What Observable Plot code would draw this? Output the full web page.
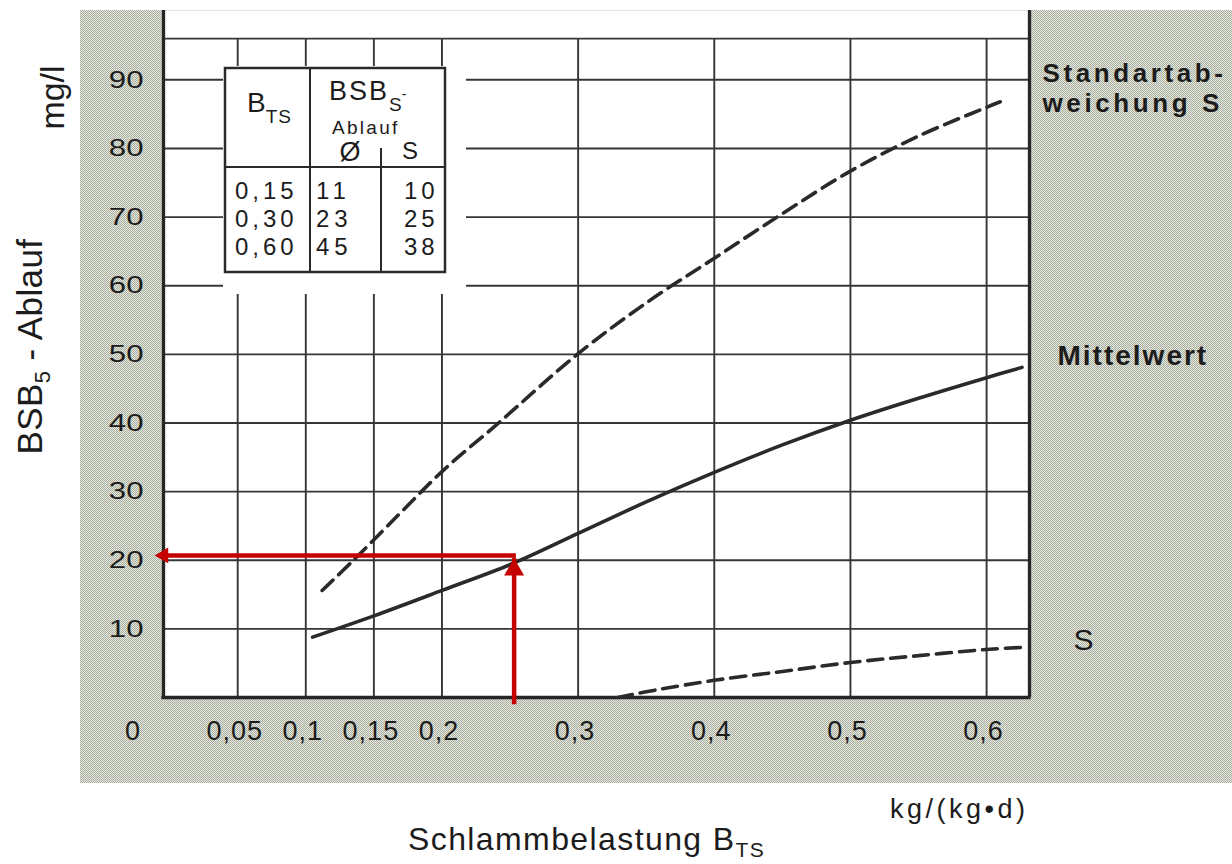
<!DOCTYPE html>
<html>
<head>
<meta charset="utf-8">
<script src="https://cdn.jsdelivr.net/npm/d3@7"></script>
<script src="https://cdn.jsdelivr.net/npm/@observablehq/plot@0.6"></script>
<style>
  html, body { margin: 0; padding: 0; background: #fff; }
  #chart { width: 1232px; height: 864px; }
  g[aria-label="x-axis tick label"] { letter-spacing: 1px; }
</style>
</head>
<body>
<div id="chart"></div>
<script>
// ---------- data ----------
const xTicks = [0.05, 0.1, 0.15, 0.2, 0.3, 0.4, 0.5, 0.6];
const xTickLabels = ["0,05", "0,1", "0,15", "0,2", "0,3", "0,4", "0,5", "0,6"];
const yTicks = [10, 20, 30, 40, 50, 60, 70, 80, 90];
const yTickLabels = ["10", "20", "30", "40", "50", "60", "70", "80", "90"];
const originLabel = "0";
const gridTop = 96;
const xDomain = [-0.0045, 0.6315];
const yDomain = [0, 100.1];

// Mittelwert (solid)
const meanBTS = [0.105, 0.15, 0.2, 0.253, 0.3, 0.35, 0.4, 0.45, 0.5, 0.55, 0.6, 0.626];
const meanBSB = [8.8, 11.9, 15.6, 19.6, 23.9, 28.5, 32.8, 36.8, 40.4, 43.6, 46.6, 48.1];
// Mittelwert + S (dashed, upper)
const upperBTS = [0.112, 0.135, 0.169, 0.201, 0.241, 0.3, 0.353, 0.4, 0.45, 0.5, 0.55, 0.6, 0.61];
const upperBSB = [15.6, 20.0, 26.8, 33.1, 39.9, 50.1, 57.9, 64.0, 70.5, 76.7, 81.8, 86.0, 86.8];
// Mittelwert - S (dashed, lower)
const lowerBTS = [0.329, 0.36, 0.4, 0.45, 0.5, 0.55, 0.6, 0.626];
const lowerBSB = [0, 1.2, 2.5, 3.8, 5.1, 6.1, 7.0, 7.3];

const seriesLabels = ["Standartab-\nweichung S", "Mittelwert", "S"];

// reading example (red arrows)
const arrowBTS = 0.253;
const arrowLevelBSB = 20.7;
const arrowStartBSB = 0.7;
const arrowTipBSB = 20.3;
const arrowTipBTS = -0.011;

// inset table
const tableBTS = ["0,15", "0,30", "0,60"];
const tableMean = ["11", "23", "45"];
const tableS = ["10", "25", "38"];

// ---------- helpers ----------
const fmtX = d => xTickLabels[xTicks.indexOf(d)];
const fmtY = d => yTickLabels[yTicks.indexOf(d)];
const mk = (xs, ys) => xs.map((x, i) => ({x, y: ys[i]}));
const mean = mk(meanBTS, meanBSB);
const upper = mk(upperBTS, upperBSB);
const lower = mk(lowerBTS, lowerBSB);

const ink = "#1c1c1c";
const gridColor = "#363636";
const curveColor = "#2a2a2a";
const red = "#c40000";
const font = "'Liberation Sans', Arial, Helvetica, sans-serif";

const plot = Plot.plot({
  width: 1232,
  height: 864,
  marginLeft: 163,
  marginRight: 203,
  marginTop: 10,
  marginBottom: 167,
  style: {fontFamily: font, color: ink, background: "transparent", overflow: "visible"},
  x: {domain: xDomain},
  y: {domain: yDomain},
  marks: [
    Plot.frame({fill: "white", stroke: "none"}),
    Plot.ruleY(yTicks, {y: d => d, x1: xDomain[0], x2: xDomain[1], stroke: gridColor, strokeWidth: 1.9}),
    Plot.ruleY([gridTop], {y: d => d, x1: xDomain[0], x2: xDomain[1], stroke: gridColor, strokeWidth: 1.9}),
    Plot.ruleX(xTicks, {x: d => d, y1: 0, y2: gridTop, stroke: gridColor, strokeWidth: 1.9}),
    Plot.ruleX(xDomain, {x: d => d, y1: 0, y2: yDomain[1], stroke: "#262626", strokeWidth: 3.3}),
    Plot.ruleY([0], {y: d => d, x1: xDomain[0], x2: xDomain[1], stroke: "#262626", strokeWidth: 3.3, strokeLinecap: "square"}),
    Plot.line(lower, {x: "x", y: "y", stroke: curveColor, strokeWidth: 3.6, strokeDasharray: "15,8", curve: "catmull-rom"}),
    Plot.line(upper, {x: "x", y: "y", stroke: curveColor, strokeWidth: 3.6, strokeDasharray: "15,8", curve: "catmull-rom"}),
    Plot.line(mean, {x: "x", y: "y", stroke: curveColor, strokeWidth: 3.6, curve: "catmull-rom"}),
    Plot.axisX({ticks: xTicks, tickSize: 0, tickPadding: 23, fontSize: 27, tickFormat: fmtX, label: null, dx: -3}),
    Plot.axisY({ticks: yTicks, tickSize: 0, tickPadding: 20, fontSize: 24, tickFormat: fmtY, label: null}),
    Plot.text([originLabel], {x: xDomain[0], y: 0, text: d => d, dx: -31, dy: 34, fontSize: 27}),
    Plot.text([seriesLabels[0]], {x: xDomain[1], y: upperBSB[upperBSB.length - 1], text: d => d, textAnchor: "start", lineAnchor: "bottom", dx: 13, dy: 10, fontSize: 26, fontWeight: "bold", lineHeight: 1.16}),
    Plot.text([seriesLabels[1]], {x: xDomain[1], y: meanBSB[meanBSB.length - 1], text: d => d, textAnchor: "start", lineAnchor: "bottom", dx: 28, dy: -2, fontSize: 28, fontWeight: "bold"}),
    Plot.text([seriesLabels[2]], {x: xDomain[1], y: lowerBSB[lowerBSB.length - 1], text: d => d, textAnchor: "start", lineAnchor: "bottom", dx: 44, dy: 3, fontSize: 30}),
    Plot.ruleX([arrowBTS], {x: d => d, y1: arrowStartBSB, y2: arrowTipBSB, stroke: red, strokeWidth: 4.5, insetTop: 12}),
    Plot.ruleY([arrowLevelBSB], {y: d => d, x1: arrowTipBTS, x2: arrowBTS, stroke: red, strokeWidth: 4.5, insetLeft: 9, strokeLinecap: "square"}),
    Plot.dot([arrowTipBSB], {x: arrowBTS, y: d => d, symbol: "triangle", r: 7.4, fill: red, stroke: "none", dy: 11.5}),
    Plot.dot([arrowTipBTS], {x: d => d, y: arrowLevelBSB, symbol: "triangle", r: 5.8, fill: red, stroke: "none", rotate: -90, dx: 9})
  ]
});

document.getElementById("chart").appendChild(plot);

// ---------- decorations ----------
const svg = d3.select(plot);
svg.style("font-family", font);

// halftone grey background
svg.insert("rect", ":first-child")
  .attr("x", 80).attr("y", 10).attr("width", 1152).attr("height", 773)
  .attr("fill", "url(#halftone)");
const defs = svg.insert("defs", ":first-child");
const pat = defs.append("pattern").attr("id", "halftone")
  .attr("width", 2).attr("height", 2).attr("patternUnits", "userSpaceOnUse");
pat.append("rect").attr("width", 2).attr("height", 2).attr("fill", "#e6e9df");
pat.append("rect").attr("width", 1).attr("height", 1).attr("fill", "#a8ad9f");
pat.append("rect").attr("x", 1).attr("y", 1).attr("width", 1).attr("height", 1).attr("fill", "#a8ad9f");

// widen y tick labels like the original typeface
svg.selectAll('g[aria-label="y-axis tick label"] text').each(function () {
  const t = this.getAttribute("transform");
  if (t) this.setAttribute("transform", t + " scale(1.3,1)");
});
svg.selectAll("text").filter(function () { return this.textContent === "Mittelwert"; })
  .style("letter-spacing", "2px");
svg.selectAll("text").filter(function () { return this.textContent.startsWith("Standartab"); })
  .style("letter-spacing", "3.6px");

// text helper: parts may shift baseline (shift)
function rich(g, x, y, parts, size, opts = {}) {
  const t = g.append("text").attr("x", x).attr("y", y)
    .attr("font-size", size).attr("fill", ink)
    .attr("text-anchor", opts.anchor || "start")
    .style("letter-spacing", (opts.ls || 0) + "px");
  let shift = 0;
  for (const p of parts) {
    const ts = t.append("tspan").text(p.t);
    const s = p.shift || 0;
    ts.attr("dy", s - shift);
    shift = s;
    if (p.size) ts.attr("font-size", p.size);
    if (p.ls != null) ts.style("letter-spacing", p.ls + "px");
  }
  return t;
}

// inset table
const tg = svg.append("g").attr("aria-label", "table");
tg.append("rect").attr("x", 223).attr("y", 66).attr("width", 243).attr("height", 228).attr("fill", "white");
tg.append("rect").attr("x", 225).attr("y", 68).attr("width", 220).attr("height", 204)
  .attr("fill", "none").attr("stroke", "#2a2a2a").attr("stroke-width", 2.5);
tg.append("line").attr("x1", 310).attr("x2", 310).attr("y1", 68).attr("y2", 272).attr("stroke", "#2a2a2a").attr("stroke-width", 2);
tg.append("line").attr("x1", 225).attr("x2", 445).attr("y1", 167).attr("y2", 167).attr("stroke", "#2a2a2a").attr("stroke-width", 2);
tg.append("line").attr("x1", 381).attr("x2", 381).attr("y1", 148).attr("y2", 272).attr("stroke", "#2a2a2a").attr("stroke-width", 2);
rich(tg, 247, 112, [{t: "B"}, {t: "TS", size: 19, shift: 11, ls: 1}], 28);
rich(tg, 329, 100, [{t: "BSB", ls: 2}, {t: "S", size: 19, shift: 11}, {t: "-", size: 14, shift: -1}], 27);
rich(tg, 332, 134, [{t: "Ablauf"}], 19, {ls: 2.3});
rich(tg, 350, 161, [{t: "Ø"}], 27, {anchor: "middle"});
rich(tg, 402, 159, [{t: "S"}], 24);
tableBTS.forEach((v, i) => rich(tg, 235, 199 + 28 * i, [{t: v}], 24, {ls: 4}));
tableMean.forEach((v, i) => rich(tg, 316, 199 + 28 * i, [{t: v}], 24, {ls: 5}));
tableS.forEach((v, i) => rich(tg, 404, 199 + 28 * i, [{t: v}], 24, {ls: 4}));

// axis titles
const ag = svg.append("g").attr("aria-label", "axis titles");
const yt = ag.append("g").attr("transform", "translate(42,346.5) rotate(-90)");
rich(yt, 0, 0, [{t: "BSB"}, {t: "5", size: 22, shift: 8}, {t: " - Ablauf", shift: 0}], 35, {anchor: "middle", ls: 0.4});
const yu = ag.append("g").attr("transform", "translate(64,97.5) rotate(-90)");
rich(yu, 0, 0, [{t: "mg/l"}], 34, {anchor: "middle"});
rich(ag, 890, 818, [{t: "kg/(kg•d)"}], 27, {ls: 3.5});
rich(ag, 408, 850, [{t: "Schlammbelastung B"}, {t: "TS", size: 21, shift: 7}], 32, {ls: 1.4});
</script>
</body>
</html>
